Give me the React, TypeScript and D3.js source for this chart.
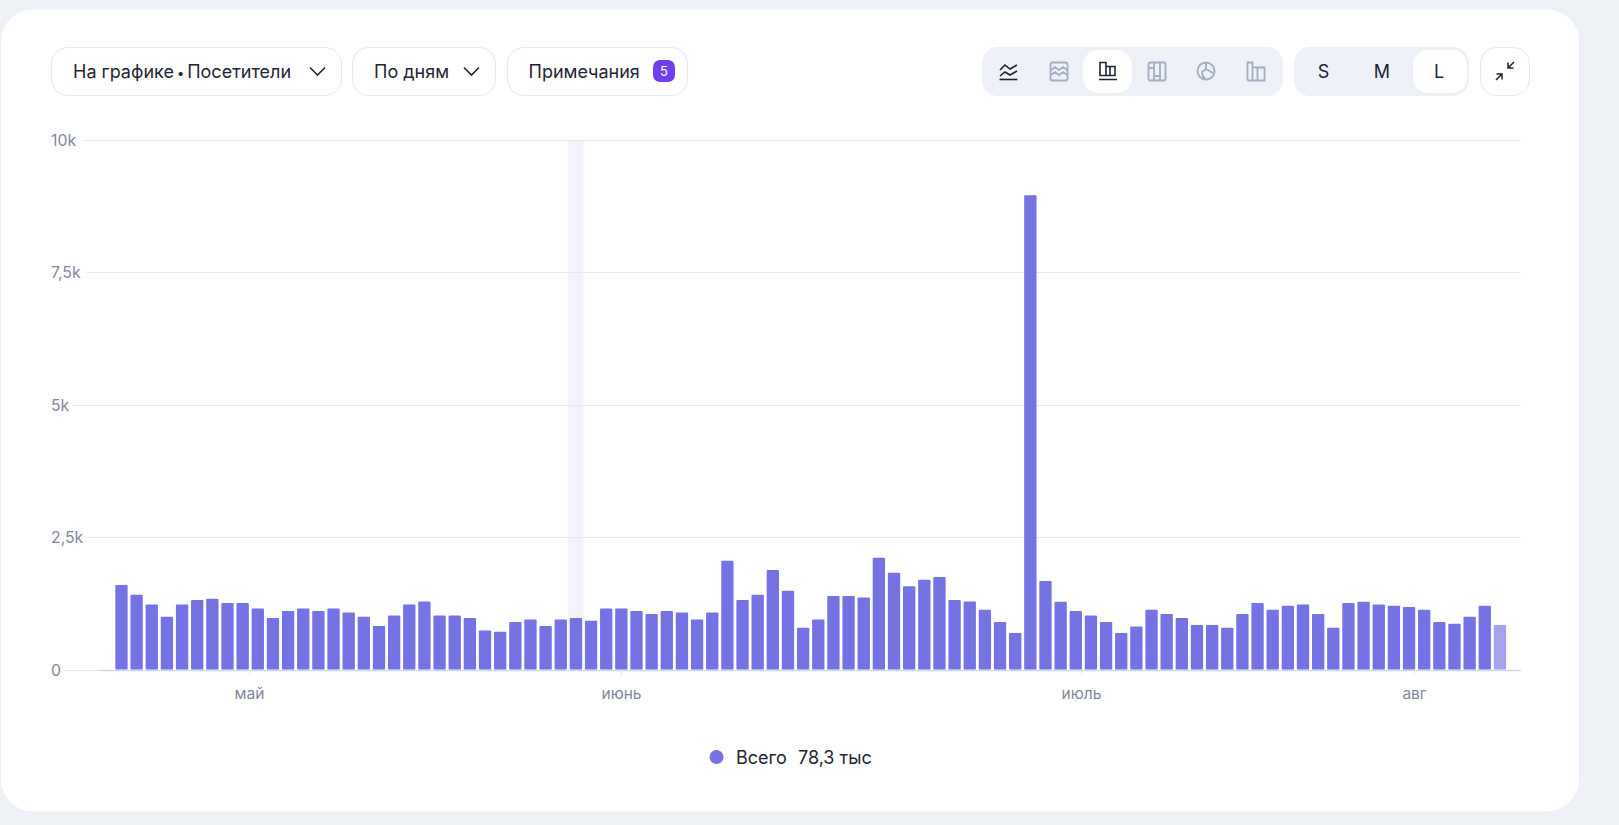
import React from 'react';
import * as d3 from 'd3';

// посетители по дням
const visitors = [
  1595, 1412, 1229, 996, 1229, 1311, 1337, 1255, 1255, 1154, 971, 1103, 1154, 1103, 1154, 1078, 996, 820, 1022, 1229,
  1286, 1022, 1022, 971, 738, 713, 896, 946, 820, 946, 971, 921, 1154, 1154, 1103, 1047, 1103, 1078, 946, 1078, 2055,
  1311, 1412, 1878, 1488, 788, 946, 1387, 1387, 1362, 2111, 1828, 1570, 1696, 1746, 1311, 1286, 1129, 896, 688, 8957,
  1670, 1280, 1103, 1022, 896, 688, 814, 1129, 1047, 971, 839, 839, 788, 1047, 1255, 1129, 1204, 1229, 1047, 788, 1255,
  1280, 1229, 1204, 1179, 1129, 896, 864, 996, 1204, 839,
];
const yTicks = [0, 2500, 5000, 7500, 10000];
const yLabels = ['0', '2,5k', '5k', '7,5k', '10k'];
const monthLabels = ['май', 'июнь', 'июль', 'авг'];
const monthSteps = [8.95, 33.45, 63.85, 85.85];
const highlightedDay = 30;
const partialDay = 91;
const legendName = 'Всего';
const legendTotal = '78,3 тыс';
const sizes = ['S', 'M', 'L'];

const FONT = 'Inter, "Noto Sans", sans-serif';
const BAR = '#7572e4';
const GRID = '#e6e7f1';
const AXIS_TEXT = '#7f879f';

// начало линии сетки зависит от ширины подписи
const gridStarts = [65, 87, 73, 87, 83];

const Button = ({ x, w }: { x: number; w: number }) => (
  <rect x={x + 0.5} y={47.5} width={w} height={48} rx={16} fill="#fff" stroke="#e6e8f2" />
);

const Chevron = ({ x }: { x: number }) => (
  <path d={`M${x} 67.5l7.5 7.5l7.5-7.5`} fill="none" stroke="#1f2433" strokeWidth={1.6} />
);

export default function App() {
  const x = d3.scaleBand<number>().domain(d3.range(visitors.length)).range([113.9, 1507.5]).paddingInner(0.187).paddingOuter(0.0935);
  const y = d3.scaleLinear().domain([0, 10000]).range([669.5, 140]);
  const tickX = d3.scaleLinear().domain([0, visitors.length]).range([113.9, 1507.5]);
  const bar = x.bandwidth();
  const step = x.step();

  const iconDark = '#1f2433';
  const iconMuted = '#a3adc4';

  return (
    <div style={{ position: 'fixed', left: 0, top: 0, width: 1619, height: 825, background: '#eef2f7' }}>
      <svg width={1619} height={825} style={{ display: 'block', fontFamily: FONT }}>
        <rect x={1} y={9.5} width={1578} height={802} rx={32} fill="#fff" />

        {/* панель слева */}
        <Button x={51} w={290} />
        <text x={73} y={77.5} fontSize={18} fill="#1f2433">
          На графике<tspan dx={3} fontSize={13}>•</tspan>
          <tspan dx={3}>Посетители</tspan>
        </text>
        <Chevron x={310} />
        <Button x={352} w={143} />
        <text x={374} y={77.5} fontSize={18} fill="#1f2433">По дням</text>
        <Chevron x={464} />
        <Button x={507} w={180} />
        <text x={528.5} y={77.5} fontSize={18} fill="#1f2433">Примечания</text>
        <rect x={653} y={60} width={22} height={22} rx={7} fill="#7040e8" />
        <text x={664} y={76} fontSize={13} fill="#fff" textAnchor="middle">5</text>

        {/* типы графика */}
        <rect x={982} y={47} width={301} height={49} rx={16} fill="#eef1f7" />
        <rect x={1083} y={50} width={49} height={43} rx={15} fill="#fff" />
        <g fill="none" stroke={iconDark} strokeWidth={1.6}>
          <path d="M1000 70l5-5l5 4l7-4M1000 76l5-4l5 3l7-4" />
          <path d="M999.5 79.5h18" />
          <path d="M1099 79.5h18M1100 62.5h6v13h-6zM1106 66.5h9v9h-9zM1110 66.5v9" />
        </g>
        <g fill="none" stroke={iconMuted} strokeWidth={1.8}>
          <rect x={1050.5} y={62.5} width={17} height={18} rx={2} />
          <path d="M1051 70l4-3l4 3l4-3l4 3M1051 75l4-3l4 3l4-3l4 3" />
          <rect x={1148.5} y={62.5} width={17} height={18} rx={2} />
          <path d="M1154 63v17M1160 63v17M1149 68h5M1154 76h6" />
          <circle cx={1206} cy={71} r={8.5} />
          <path d="M1206 63v6l-4 3q0 4 3 7M1206 69l7 4" />
          <path d="M1247.5 80.5v-18h5v18M1252.5 80.5v-13h5v13M1257.5 80.5v-13h7v13zM1247.5 80.5h17" />
        </g>

        {/* размер */}
        <rect x={1294} y={47} width={175} height={49} rx={16} fill="#eef1f7" />
        <rect x={1413} y={50} width={54} height={43} rx={15} fill="#fff" />
        {sizes.map((s, i) => (
          <text key={s} x={[1323.5, 1382, 1439][i]} y={77.5} fontSize={18} fill="#1f2433" textAnchor="middle">{s}</text>
        ))}
        <Button x={1480} w={49} />
        <g fill="none" stroke={iconDark} strokeWidth={1.5}>
          <path d="M1496 80l6-6M1496.5 74h5.5v5.5" />
          <path d="M1514 62l-6 6M1513.5 68h-5.5v-5.5" />
        </g>

        {/* подсветка дня */}
        <rect x={(x(highlightedDay) as number) - (step - bar) / 2} y={y(10000)} width={step} height={y(0) - y(10000)} fill="#f3f4f9" />

        {/* сетка */}
        {yTicks.map((t, i) => {
          const py = Math.round(y(t)) + 0.5;
          return (
            <g key={t}>
              <line x1={gridStarts[i]} x2={1521} y1={py} y2={py} stroke={GRID} />
              <text x={51} y={py + 5.5} fontSize={15.8} fill={AXIS_TEXT}>{yLabels[i]}</text>
            </g>
          );
        })}
        <line x1={100} x2={1521} y1={Math.round(y(0)) + 0.5} y2={Math.round(y(0)) + 0.5} stroke="#d2d5ec" strokeWidth={1.5} />

        {/* столбцы */}
        {visitors.map((v, i) => (
          <rect
            key={i}
            x={x(i)}
            y={y(v)}
            width={bar}
            height={y(0) - y(v)}
            rx={1}
            fill={i === partialDay ? '#a5a2ee' : BAR}
          />
        ))}

        {/* месяцы */}
        {monthLabels.map((m, i) => {
          const px = Math.round(tickX(monthSteps[i])) + 0.5;
          return (
            <g key={m}>
              <line x1={px} x2={px} y1={671} y2={676} stroke={GRID} />
              <text x={px} y={699} fontSize={15.5} fill={AXIS_TEXT} textAnchor="middle">{m}</text>
            </g>
          );
        })}

        {/* легенда */}
        <circle cx={716.5} cy={757} r={7} fill={BAR} />
        <text x={736} y={763.5} fontSize={18} fill="#1f2433">{legendName}</text>
        <text x={798} y={763.5} fontSize={18} fill="#1f2433">{legendTotal}</text>
      </svg>
    </div>
  );
}
